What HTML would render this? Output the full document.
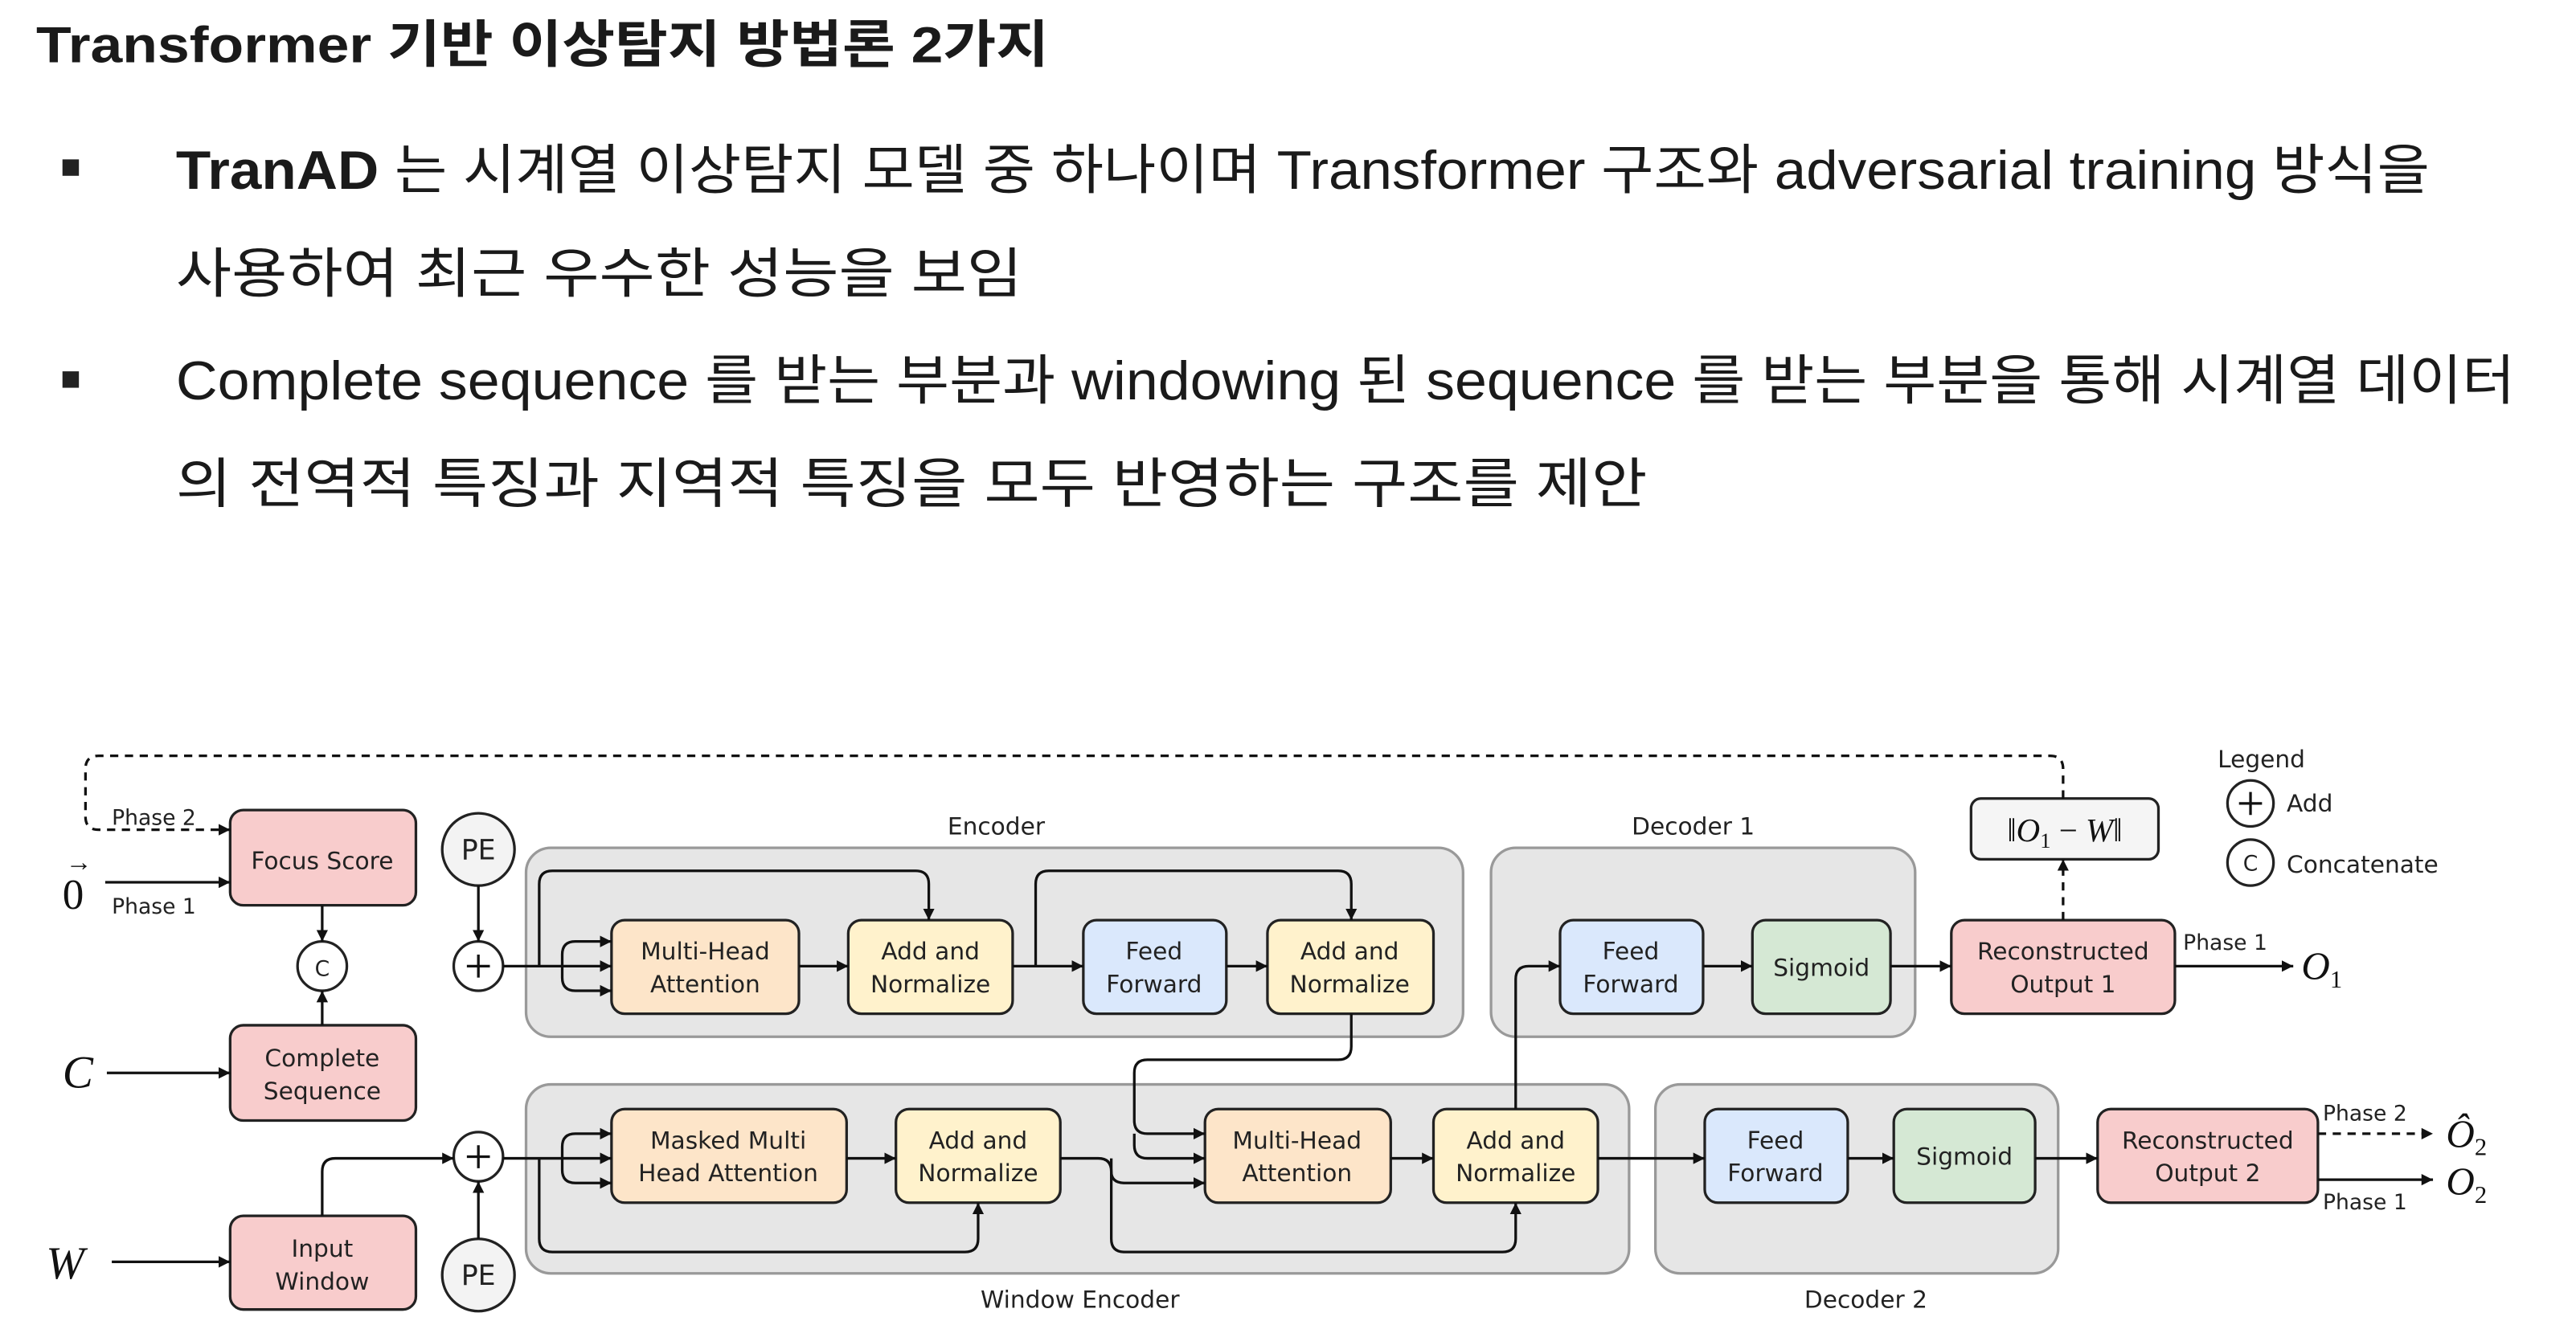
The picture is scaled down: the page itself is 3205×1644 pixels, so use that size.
<!DOCTYPE html>
<html><head><meta charset="utf-8"><style>
html,body{margin:0;padding:0;background:#fff;}
svg{display:block;}
.t{font-family:"Liberation Sans","Noto Sans CJK KR",sans-serif;fill:#1a1a1a;}
.d{font-family:"DejaVu Sans","Liberation Sans",sans-serif;font-size:14.5px;fill:#222;}
.m{font-family:"Liberation Serif",serif;font-style:italic;fill:#111;}
.b{stroke:#222;stroke-width:1.6;}
.ln{fill:none;stroke:#111;stroke-width:1.6;}
.ds{fill:none;stroke:#111;stroke-width:1.6;stroke-dasharray:5 4;}
</style></head><body>
<svg width="3205" height="1644" viewBox="0 0 1567 804" preserveAspectRatio="none" xmlns="http://www.w3.org/2000/svg">
<defs><marker id="a" viewBox="0 0 10 10" refX="10" refY="5" markerWidth="7" markerHeight="7" orient="auto" markerUnits="userSpaceOnUse"><path d="M0,0L10,5L0,10z" fill="#111"/></marker></defs>

<text class="t" x="22" y="38" font-size="31" font-weight="bold" textLength="616" lengthAdjust="spacingAndGlyphs">Transformer 기반 이상탐지 방법론 2가지</text>
<rect x="38" y="97" width="10" height="10" fill="#222"/>
<rect x="38" y="226" width="10" height="10" fill="#222"/>
<text class="t" x="107" y="115" font-size="33" textLength="1371" lengthAdjust="spacingAndGlyphs"><tspan font-weight="bold">TranAD</tspan> 는 시계열 이상탐지 모델 중 하나이며 Transformer 구조와 adversarial training 방식을</text>
<text class="t" x="107" y="178" font-size="33" textLength="515" lengthAdjust="spacingAndGlyphs">사용하여 최근 우수한 성능을 보임</text>
<text class="t" x="107" y="243" font-size="33" textLength="1423" lengthAdjust="spacingAndGlyphs">Complete sequence 를 받는 부분과 windowing 된 sequence 를 받는 부분을 통해 시계열 데이터</text>
<text class="t" x="107" y="306" font-size="33" textLength="895" lengthAdjust="spacingAndGlyphs">의 전역적 특징과 지역적 특징을 모두 반영하는 구조를 제안</text>

<g fill="#e6e6e6" stroke="#999" stroke-width="1.6">
<rect x="320" y="516" width="570" height="115" rx="15"/>
<rect x="907" y="516" width="258" height="115" rx="15"/>
<rect x="320" y="660" width="671" height="115" rx="15"/>
<rect x="1007" y="660" width="245" height="115" rx="15"/>
</g>
<g class="d" text-anchor="middle">
<text x="606" y="508">Encoder</text><text x="1030" y="508">Decoder 1</text>
<text x="657" y="796">Window Encoder</text><text x="1135" y="796">Decoder 2</text>
</g>

<g class="b">
<rect x="140" y="493" width="113" height="58" rx="8" fill="#f8cccc"/>
<rect x="140" y="624" width="113" height="58" rx="8" fill="#f8cccc"/>
<rect x="140" y="740" width="113" height="57" rx="8" fill="#f8cccc"/>
<rect x="372" y="560" width="114" height="57" rx="8" fill="#fde5c9"/>
<rect x="516" y="560" width="100" height="57" rx="8" fill="#fff2cc"/>
<rect x="659" y="560" width="87" height="57" rx="8" fill="#dae8fc"/>
<rect x="771" y="560" width="101" height="57" rx="8" fill="#fff2cc"/>
<rect x="949" y="560" width="87" height="57" rx="8" fill="#dae8fc"/>
<rect x="1066" y="560" width="84" height="57" rx="8" fill="#d5e8d4"/>
<rect x="1187" y="560" width="136" height="57" rx="8" fill="#f8cccc"/>
<rect x="1199" y="486" width="114" height="37" rx="6" fill="#f5f5f5"/>
<rect x="372" y="675" width="143" height="57" rx="8" fill="#fde5c9"/>
<rect x="545" y="675" width="100" height="57" rx="8" fill="#fff2cc"/>
<rect x="733" y="675" width="113" height="57" rx="8" fill="#fde5c9"/>
<rect x="872" y="675" width="100" height="57" rx="8" fill="#fff2cc"/>
<rect x="1037" y="675" width="87" height="57" rx="8" fill="#dae8fc"/>
<rect x="1152" y="675" width="86" height="57" rx="8" fill="#d5e8d4"/>
<rect x="1276" y="675" width="134" height="57" rx="8" fill="#f8cccc"/>
<circle cx="196" cy="588" r="15" fill="#fff"/>
<circle cx="291" cy="588" r="15" fill="#fff"/>
<circle cx="291" cy="704" r="15" fill="#fff"/>
<circle cx="291" cy="517" r="22" fill="#f3f3f3"/>
<circle cx="291" cy="776" r="22" fill="#f3f3f3"/>
<circle cx="1369" cy="489" r="14" fill="#fff"/>
<circle cx="1369" cy="525" r="14" fill="#fff"/>
</g>
<g class="ln"><path d="M284,588h14M291,581v14M284,704h14M291,697v14M1362,489h14M1369,482v14"/></g>

<g class="d" text-anchor="middle">
<text x="196" y="529">Focus Score</text>
<text x="196" y="649">Complete</text><text x="196" y="669">Sequence</text>
<text x="196" y="765">Input</text><text x="196" y="785">Window</text>
<text x="429" y="584">Multi-Head</text><text x="429" y="604">Attention</text>
<text x="566" y="584">Add and</text><text x="566" y="604">Normalize</text>
<text x="702" y="584">Feed</text><text x="702" y="604">Forward</text>
<text x="821" y="584">Add and</text><text x="821" y="604">Normalize</text>
<text x="992" y="584">Feed</text><text x="992" y="604">Forward</text>
<text x="1108" y="594">Sigmoid</text>
<text x="1255" y="584">Reconstructed</text><text x="1255" y="604">Output 1</text>
<text x="443" y="699">Masked Multi</text><text x="443" y="719">Head Attention</text>
<text x="595" y="699">Add and</text><text x="595" y="719">Normalize</text>
<text x="789" y="699">Multi-Head</text><text x="789" y="719">Attention</text>
<text x="922" y="699">Add and</text><text x="922" y="719">Normalize</text>
<text x="1080" y="699">Feed</text><text x="1080" y="719">Forward</text>
<text x="1195" y="709">Sigmoid</text>
<text x="1343" y="699">Reconstructed</text><text x="1343" y="719">Output 2</text>
<text x="196" y="594" font-size="13">C</text><text x="1369" y="530" font-size="13">C</text>
<text x="291" y="523" font-size="17">PE</text><text x="291" y="782" font-size="17">PE</text>
</g>
<g class="d">
<text x="68" y="502" font-size="13">Phase 2</text><text x="68" y="556" font-size="13">Phase 1</text>
<text x="1328" y="578" font-size="13">Phase 1</text>
<text x="1413" y="682" font-size="13">Phase 2</text><text x="1413" y="736" font-size="13">Phase 1</text>
<text x="1349" y="467">Legend</text><text x="1391" y="494">Add</text><text x="1391" y="531">Concatenate</text>
</g>
<g class="m">
<text x="38" y="553" font-size="26" font-style="normal">0</text>
<text x="40" y="530" font-size="16" font-style="normal">→</text>
<text x="38" y="662" font-size="28">C</text>
<text x="28" y="778" font-size="28">W</text>
<text x="1400" y="596" font-size="24">O<tspan font-size="15" font-style="normal" dy="5">1</tspan></text>
<text x="1488" y="698" font-size="24">Ô<tspan font-size="15" font-style="normal" dy="5">2</tspan></text>
<text x="1488" y="727" font-size="24">O<tspan font-size="15" font-style="normal" dy="5">2</tspan></text>
<text x="1256" y="512" font-size="20" text-anchor="middle">‖O<tspan font-size="13" font-style="normal" dy="4">1</tspan><tspan dy="-4" font-style="normal"> − </tspan>W‖</text>
</g>

<g class="ln" marker-end="url(#a)">
<path d="M64,537H140"/>
<path d="M65,653H140"/>
<path d="M68,768H140"/>
<path d="M196,551V573"/>
<path d="M196,624V603"/>
<path d="M291,539V573"/>
<path d="M291,754V719"/>
<path d="M306,588H372"/>
<path d="M342,588v-7q0,-8 8,-8H372"/>
<path d="M342,588v7q0,8 8,8H372"/>
<path d="M328,588V538q0,-8 8,-8H557q8,0 8,8V560"/>
<path d="M486,588H516"/>
<path d="M616,588H659"/>
<path d="M630,588V538q0,-8 8,-8H814q8,0 8,8V560"/>
<path d="M746,588H771"/>
<path d="M196,740V713q0,-8 8,-8H276"/>
<path d="M306,705H372"/>
<path d="M342,705v-7q0,-8 8,-8H372"/>
<path d="M342,705v7q0,8 8,8H372"/>
<path d="M328,705V754q0,8 8,8H587q8,0 8,-8V732"/>
<path d="M515,705H545"/>
<path d="M645,705H668q8,0 8,8v0q0,7 8,7H733"/>
<path d="M676,705V754q0,8 8,8H914q8,0 8,-8V732"/>
<path d="M822,617V637q0,8 -8,8H698q-8,0 -8,8V682q0,8 8,8H733"/>
<path d="M690,690V697q0,8 8,8H733"/>
<path d="M846,705H872"/>
<path d="M922,675V596q0,-8 8,-8H949"/>
<path d="M1036,588H1066"/>
<path d="M1150,588H1187"/>
<path d="M1323,588H1395"/>
<path d="M972,705H1037"/>
<path d="M1124,705H1152"/>
<path d="M1238,705H1276"/>
<path d="M1410,718H1480"/>
</g>
<g class="ds" marker-end="url(#a)">
<path d="M1255,560V523"/>
<path d="M1410,690H1480"/>
<path d="M1255,486V468q0,-8 -8,-8H60q-8,0 -8,8V497q0,8 8,8H140"/>
</g>
</svg>
</body></html>
